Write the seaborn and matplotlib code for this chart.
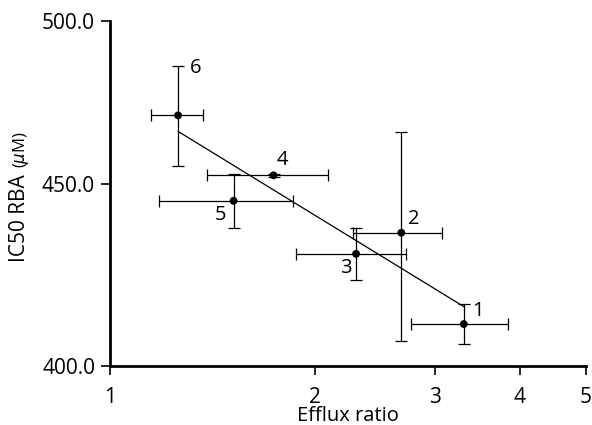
import numpy as np
import pandas as pd
import matplotlib
matplotlib.use('Agg')
import matplotlib.pyplot as plt
import matplotlib.ticker as mticker
import seaborn as sns

# values
compound = ['1', '2', '3', '4', '5', '6']
efflux = [3.31, 2.68, 2.30, 1.74, 1.52, 1.26]
efflux_err = [0.54, 0.40, 0.42, 0.35, 0.34, 0.11]
ic50 = [411.0, 436.0, 430.1, 452.5, 445.1, 470.4]
ic50_err = [5.3, 29.5, 7.2, 0.5, 7.8, 15.3]

x_ticks = [1, 2, 3, 4, 5]
y_ticks = [400, 450, 500]
y_tick_labels = ['400.0', '450.0', '500.0']

# where each number sits next to its point (pixels)
label_offsets = [(14, 13), (12, 14), (-10, -14), (9, 15), (-13, -14), (18, 47)]

df = pd.DataFrame({'compound': compound, 'efflux': efflux, 'efflux_err': efflux_err,
                   'ic50': ic50, 'ic50_err': ic50_err})

sns.set_style('ticks')
plt.rcParams['font.family'] = ['Open Sans', 'DejaVu Sans']
plt.rcParams['mathtext.fontset'] = 'dejavusans'
plt.rcParams['text.color'] = 'black'
plt.rcParams['axes.labelcolor'] = 'black'

fig = plt.figure(figsize=(5.92, 4.25), dpi=100)
ax = fig.add_axes([0.1853, 0.1388, 0.8042, 0.8118])

# error bars
ax.errorbar(df['efflux'], df['ic50'], xerr=df['efflux_err'], yerr=df['ic50_err'],
            fmt='none', ecolor='black', elinewidth=0.9, capsize=4, capthick=0.9, zorder=2)

# points
sns.scatterplot(data=df, x='efflux', y='ic50', color='black', s=32, edgecolor='none',
                ax=ax, zorder=3, legend=False)

# log-log least squares fit
slope, intercept = np.polyfit(np.log10(df['efflux']), np.log10(df['ic50']), 1)
fit_x = np.array([df['efflux'].min(), df['efflux'].max()])
fit_y = 10 ** (intercept + slope * np.log10(fit_x))
ax.plot(fit_x, fit_y, color='black', lw=0.9, zorder=2)

for (i, row), (dx, dy) in zip(df.iterrows(), label_offsets):
    ax.annotate(row['compound'], (row['efflux'], row['ic50']), xytext=(dx, dy),
                textcoords='offset pixels', ha='center', va='center', fontsize=14.5,
                color='black')

ax.set_xscale('log')
ax.set_yscale('log')
ax.set_xlim(1, 5)
ax.set_ylim(400, 500)
ax.xaxis.set_major_locator(mticker.FixedLocator(x_ticks))
ax.xaxis.set_major_formatter(mticker.FixedFormatter([str(t) for t in x_ticks]))
ax.xaxis.set_minor_locator(mticker.NullLocator())
ax.yaxis.set_major_locator(mticker.FixedLocator(y_ticks))
ax.yaxis.set_major_formatter(mticker.FixedFormatter(y_tick_labels))
ax.yaxis.set_minor_locator(mticker.NullLocator())

sns.despine(ax=ax)
for side in ['left', 'bottom']:
    ax.spines[side].set_linewidth(2)
    ax.spines[side].set_color('black')
ax.tick_params(axis='both', length=6.5, width=1.2, colors='black', labelsize=15)
ax.tick_params(axis='x', pad=8.5)
ax.tick_params(axis='y', pad=4)

ax.set_xlabel('Efflux ratio', fontsize=14.5, labelpad=-1)
ax.set_ylabel('')

# y label: larger text plus smaller unit
t1 = fig.text(20 / 592, 1 - 262 / 425, 'IC50 RBA', rotation=90, ha='center', va='bottom',
              fontsize=15)
fig.canvas.draw()
bb = t1.get_window_extent()
fig.text(21 / 592, (bb.y1 + 6) / fig.bbox.height, r'($\mu$M)', rotation=90,
         ha='center', va='bottom', fontsize=12)

fig.savefig('out.png', dpi=100)
